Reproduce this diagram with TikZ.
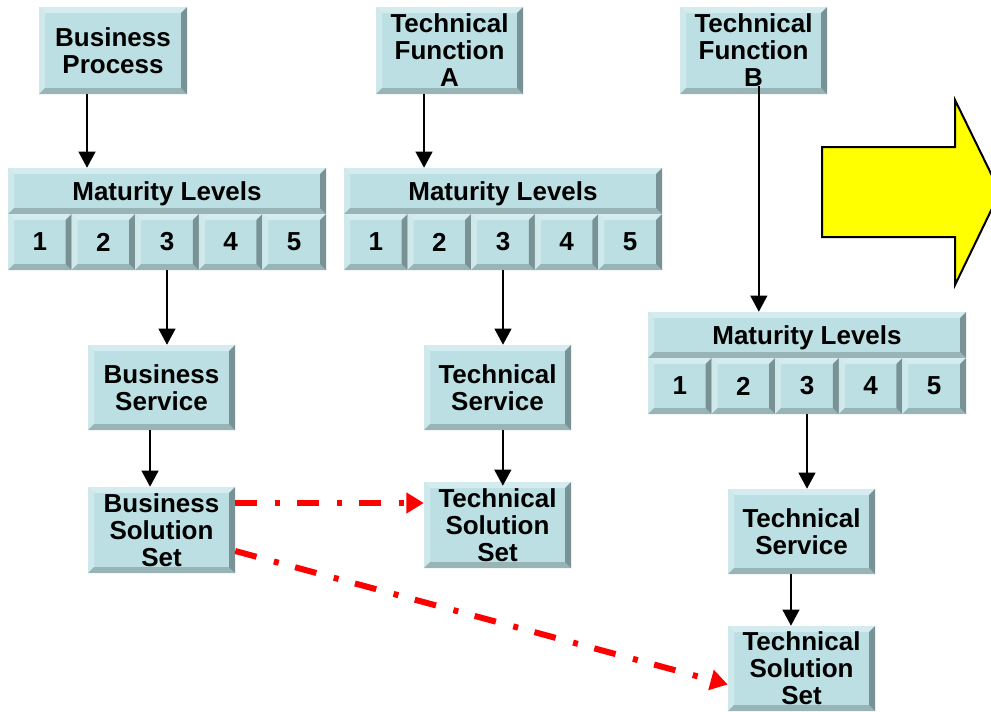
\documentclass[tikz,border=0pt]{standalone}
\usepackage{fontspec}
\setmainfont{Liberation Sans}
\usetikzlibrary{arrows.meta,calc}

\definecolor{face}{RGB}{187,223,227}
\definecolor{bvtop}{RGB}{212,236,239}
\definecolor{bvleft}{RGB}{206,232,235}
\definecolor{bvbot}{RGB}{152,180,182}
\definecolor{bvright}{RGB}{121,146,149}
\definecolor{linkred}{RGB}{255,0,0}
\definecolor{bigarrow}{RGB}{255,255,0}

\newcommand\bv{4.5pt}

\tikzset{
  bevel/.style={rectangle, fill=face, inner sep=0pt, align=center,
    font=\fontsize{19.5pt}{20.25pt}\selectfont\bfseries,
    path picture={
      \path (path picture bounding box.south west) coordinate (bvsw)
            (path picture bounding box.north east) coordinate (bvne)
            (path picture bounding box.north west) coordinate (bvnw)
            (path picture bounding box.south east) coordinate (bvse);
      \fill[bvtop] (bvnw) -- (bvne) -- ([shift={(-\bv,-\bv)}]bvne) -- ([shift={(\bv,-\bv)}]bvnw) -- cycle;
      \fill[bvleft] (bvnw) -- (bvsw) -- ([shift={(\bv,\bv)}]bvsw) -- ([shift={(\bv,-\bv)}]bvnw) -- cycle;
      \fill[bvbot] (bvsw) -- (bvse) -- ([shift={(-\bv,\bv)}]bvse) -- ([shift={(\bv,\bv)}]bvsw) -- cycle;
      \fill[bvright] (bvse) -- (bvne) -- ([shift={(-\bv,-\bv)}]bvne) -- ([shift={(-\bv,\bv)}]bvse) -- cycle;
    }},
  flow/.style={draw=black, line width=1.5pt, -{Triangle[length=12pt,width=12.5pt]}},
  link/.style={draw=linkred, line width=4.5pt,
    dash pattern=on 16.5pt off 13.5pt on 3.75pt off 12.75pt,
    -{Triangle[length=13pt,width=15pt]}},
}

% box given by its corners (in pixel units), extra options and its text
\newcommand\bevelnode[7][]{%
  \node[bevel, #1, minimum width={((#5)-(#3))*0.75pt}, minimum height={((#6)-(#4))*0.75pt}]
    (#2) at ({((#3)+(#5))/2},{((#4)+(#6))/2}) {#7};}

% maturity block: header plus five level cells
\newcommand\maturity[3]{%
  \bevelnode[text depth=0pt]{#1}{#2}{#3}{#2+318}{#3+46}{Maturity Levels}
  \foreach \k in {1,...,5}{%
    \bevelnode{#1\k}{#2+63.6*(\k-1)}{#3+46}{#2+63.6*\k}{#3+102}{\k}
  }}

\begin{document}
\begin{tikzpicture}[x=0.75pt,y=-0.75pt]
\useasboundingbox (0,0) rectangle (991,711);

% top row sources
\bevelnode{bp}{39}{7}{187}{94}{Business\\Process}
\bevelnode{tfa}{376}{7}{523}{94}{Technical\\Function\\A}
\bevelnode{tfb}{680}{7}{827}{94}{Technical\\Function\\B}

% maturity blocks
\maturity{mla}{8}{168}
\maturity{mlb}{344}{168}
\maturity{mlc}{648}{312}

% services and solution sets
\bevelnode{bs}{88}{345}{235}{430}{Business\\Service}
\bevelnode{bss}{88}{487}{235}{573}{Business\\Solution\\Set}
\bevelnode{ts}{424}{345}{571}{430}{Technical\\Service}
\bevelnode{tss}{424}{482}{571}{568}{Technical\\Solution\\Set}
\bevelnode{tsb}{728}{489}{875}{574}{Technical\\Service}
\bevelnode{tssb}{728}{626}{875}{711}{Technical\\Solution\\Set}

% big yellow arrow
\filldraw[fill=bigarrow, draw=black, line width=1.5pt, line join=miter]
  (822,147) -- (955,147) -- (955,100) -- (1000,192) -- (955,285)
  -- (955,237) -- (822,237) -- cycle;

% vertical flows
\draw[flow] ([xshift=-19.5pt]bp.south) -- ([xshift=-19.5pt]bp.south |- mla.north);
\draw[flow] (mla3.south) -- (mla3.south |- bs.north);
\draw[flow] ([xshift=-8.6pt]bs.south) -- ([xshift=-8.6pt]bs.south |- bss.north);
\draw[flow] ([xshift=-19.1pt]tfa.south) -- ([xshift=-19.1pt]tfa.south |- mlb.north);
\draw[flow] (mlb3.south) -- (mlb3.south |- ts.north);
\draw[flow] ([xshift=4pt]ts.south) -- ([xshift=4pt,yshift=-3pt]ts.south |- tss.north);
\draw[flow] ([xshift=4pt,yshift=6pt]tfb.south) -- ([xshift=4pt]tfb.south |- mlc.north);
\draw[flow] (mlc3.south) -- (mlc3.south |- tsb.north);
\draw[flow] ([xshift=-7.9pt]tsb.south) -- ([xshift=-7.9pt]tsb.south |- tssb.north);

% links from the business solution set
\coordinate (r1) at ([yshift=20.25pt]bss.east);
\coordinate (r2) at ([yshift=-15.75pt]bss.east);
\coordinate (r3) at ([yshift=-12pt]tssb.west);
\draw[link] (r1) -- (r1 -| tss.west);
\draw[link] (r2) -- (r3);
\end{tikzpicture}
\end{document}
